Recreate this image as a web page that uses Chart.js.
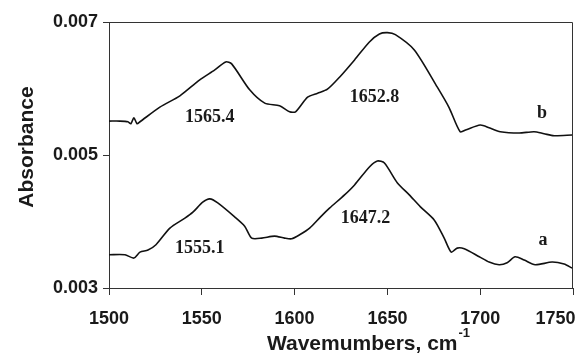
<!DOCTYPE html>
<html>
<head>
<meta charset="utf-8">
<script src="https://cdn.jsdelivr.net/npm/chart.js@4/dist/chart.umd.min.js"></script>
<style>
  html, body { margin: 0; padding: 0; background: #fff; }
  #wrap { width: 578px; height: 358px; }
</style>
</head>
<body>
<div id="wrap"><canvas id="demo"></canvas></div>
<script>
// spectrum b (upper trace)
const waveB = [1500, 1505.9, 1510.2, 1511.8, 1513.4, 1515.1, 1516.7, 1527.4, 1538.2, 1548.9,
  1557.0, 1562.9, 1566.1, 1575.8, 1583.9, 1591.9, 1597.3, 1600.5, 1607.0, 1612.4,
  1617.7, 1624.2, 1632.3, 1640.3, 1645.7, 1650.0, 1654.3, 1664.5, 1676.9, 1683.3,
  1689.2, 1692.5, 1700.0, 1704.8, 1710.8, 1721.0, 1729.0, 1734.4, 1739.8, 1749.5];
const absB = [0.00551, 0.00551, 0.00550, 0.00547, 0.00556, 0.00547, 0.00550, 0.00572, 0.00589, 0.00613,
  0.00628, 0.00640, 0.00637, 0.00598, 0.00578, 0.00574, 0.00565, 0.00565, 0.00587, 0.00593,
  0.00599, 0.00617, 0.00643, 0.00670, 0.00682, 0.00684, 0.00681, 0.00658, 0.00602, 0.00571,
  0.00535, 0.00538, 0.00545, 0.00541, 0.00535, 0.00533, 0.00535, 0.00532, 0.00529, 0.00530];

// spectrum a (lower trace)
const waveA = [1500, 1508.6, 1513.4, 1516.7, 1521.0, 1525.3, 1532.8, 1540.9, 1545.2, 1550.5,
  1554.3, 1558.6, 1567.7, 1573.1, 1576.9, 1582.3, 1589.2, 1594.6, 1598.4, 1602.7,
  1608.1, 1614.0, 1618.8, 1626.9, 1632.3, 1640.3, 1644.6, 1648.4, 1655.4, 1661.8,
  1667.8, 1675.3, 1680.6, 1684.4, 1687.6, 1691.4, 1699.5, 1704.8, 1710.2, 1714.5,
  1718.8, 1723.7, 1729.6, 1738.7, 1745.2, 1749.5];
const absA = [0.00350, 0.00350, 0.00345, 0.00354, 0.00357, 0.00365, 0.00390, 0.00405, 0.00414, 0.00429,
  0.00434, 0.00428, 0.00407, 0.00393, 0.00375, 0.00375, 0.00378, 0.00375, 0.00374, 0.00380,
  0.00390, 0.00407, 0.00420, 0.00440, 0.00455, 0.00482, 0.00491, 0.00488, 0.00458, 0.00440,
  0.00422, 0.00402, 0.00375, 0.00354, 0.00360, 0.00359, 0.00347, 0.00339, 0.00335, 0.00338,
  0.00347, 0.00342, 0.00335, 0.00339, 0.00336, 0.00330];

const xTicks = [1500, 1550, 1600, 1650, 1700, 1750];
const yTicks = [0.003, 0.005, 0.007];

// peak / trace labels, anchored in data units
const noteText = ["1565.4", "1652.8", "b", "1555.1", "1647.2", "a"];
const noteX = [1554.3, 1643.0, 1733.3, 1548.9, 1638.2, 1733.9];
const noteY = [0.00556, 0.00587, 0.00562, 0.00360, 0.00405, 0.00372];

const toPoints = (xs, ys) => xs.map((x, i) => ({ x: x, y: ys[i] }));

const frameAndText = {
  id: "frameAndText",
  afterDraw(chart) {
    const { ctx, chartArea: a, scales } = chart;
    ctx.save();
    // box around plot
    ctx.strokeStyle = "#333";
    ctx.lineWidth = 1;
    ctx.beginPath();
    ctx.moveTo(a.left, a.top + 0.5);
    ctx.lineTo(a.right - 0.5, a.top + 0.5);
    ctx.lineTo(a.right - 0.5, a.bottom);
    ctx.stroke();

    // annotations
    ctx.fillStyle = "#1a1a1a";
    ctx.font = "bold 18px 'Liberation Serif', serif";
    ctx.textAlign = "center";
    ctx.textBaseline = "middle";
    noteText.forEach((t, i) => {
      ctx.fillText(t, scales.x.getPixelForValue(noteX[i]), scales.y.getPixelForValue(noteY[i]));
    });

    // axis titles
    ctx.font = "bold 21px 'Liberation Sans', Arial, sans-serif";
    ctx.save();
    ctx.translate(27, 147);
    ctx.rotate(-Math.PI / 2);
    ctx.fillText("Absorbance", 0, 0);
    ctx.restore();

    const main = "Wavemumbers, cm";
    const w = ctx.measureText(main).width;
    ctx.font = "bold 13px 'Liberation Sans', Arial, sans-serif";
    const sw = ctx.measureText("-1").width;
    const x0 = 368 - (w + sw) / 2;
    ctx.textAlign = "left";
    ctx.font = "bold 21px 'Liberation Sans', Arial, sans-serif";
    ctx.fillText(main, x0, 344);
    ctx.font = "bold 13px 'Liberation Sans', Arial, sans-serif";
    ctx.fillText("-1", x0 + w + 1, 333);
    ctx.restore();
  }
};

const tickFont = { family: "'Liberation Sans', Arial, sans-serif", size: 18, weight: "bold" };

// last x label sits pulled in from the right edge, as in the original figure
const xLabel = (v) => (v === xTicks[xTicks.length - 1] ? String(v) + "       " : String(v));

new Chart(document.getElementById("demo").getContext("2d"), {
  type: "line",
  data: {
    datasets: [
      { label: "a", data: toPoints(waveA, absA) },
      { label: "b", data: toPoints(waveB, absB) }
    ]
  },
  options: {
    responsive: true,
    maintainAspectRatio: false,
    animation: false,
    layout: { padding: { top: 22, right: 5, left: 0, bottom: 0 } },
    elements: {
      line: { borderColor: "#111", borderWidth: 1.6, tension: 0.25, fill: false },
      point: { radius: 0 }
    },
    plugins: { legend: { display: false }, tooltip: { enabled: false } },
    scales: {
      x: {
        type: "linear",
        min: 1500,
        max: 1750,
        afterFit: (s) => { s.height = 70; s.paddingRight = 0; s.paddingLeft = 0; },
        afterBuildTicks: (s) => { s.ticks = xTicks.map(v => ({ value: v })); },
        grid: { drawOnChartArea: false, tickLength: 7, color: "#333" },
        border: { color: "#333", width: 1 },
        ticks: { font: tickFont, color: "#1a1a1a", padding: 13, maxRotation: 0, callback: xLabel }
      },
      y: {
        min: 0.003,
        max: 0.007,
        afterFit: (s) => { s.width = 109; s.paddingTop = 0; s.paddingBottom = 0; },
        afterBuildTicks: (s) => { s.ticks = yTicks.map(v => ({ value: v })); },
        grid: { drawOnChartArea: false, tickLength: 6, color: "#333" },
        border: { color: "#333", width: 1 },
        ticks: { font: tickFont, color: "#1a1a1a", padding: 5, callback: (v) => v.toFixed(3) }
      }
    }
  },
  plugins: [frameAndText]
});
</script>
</body>
</html>
